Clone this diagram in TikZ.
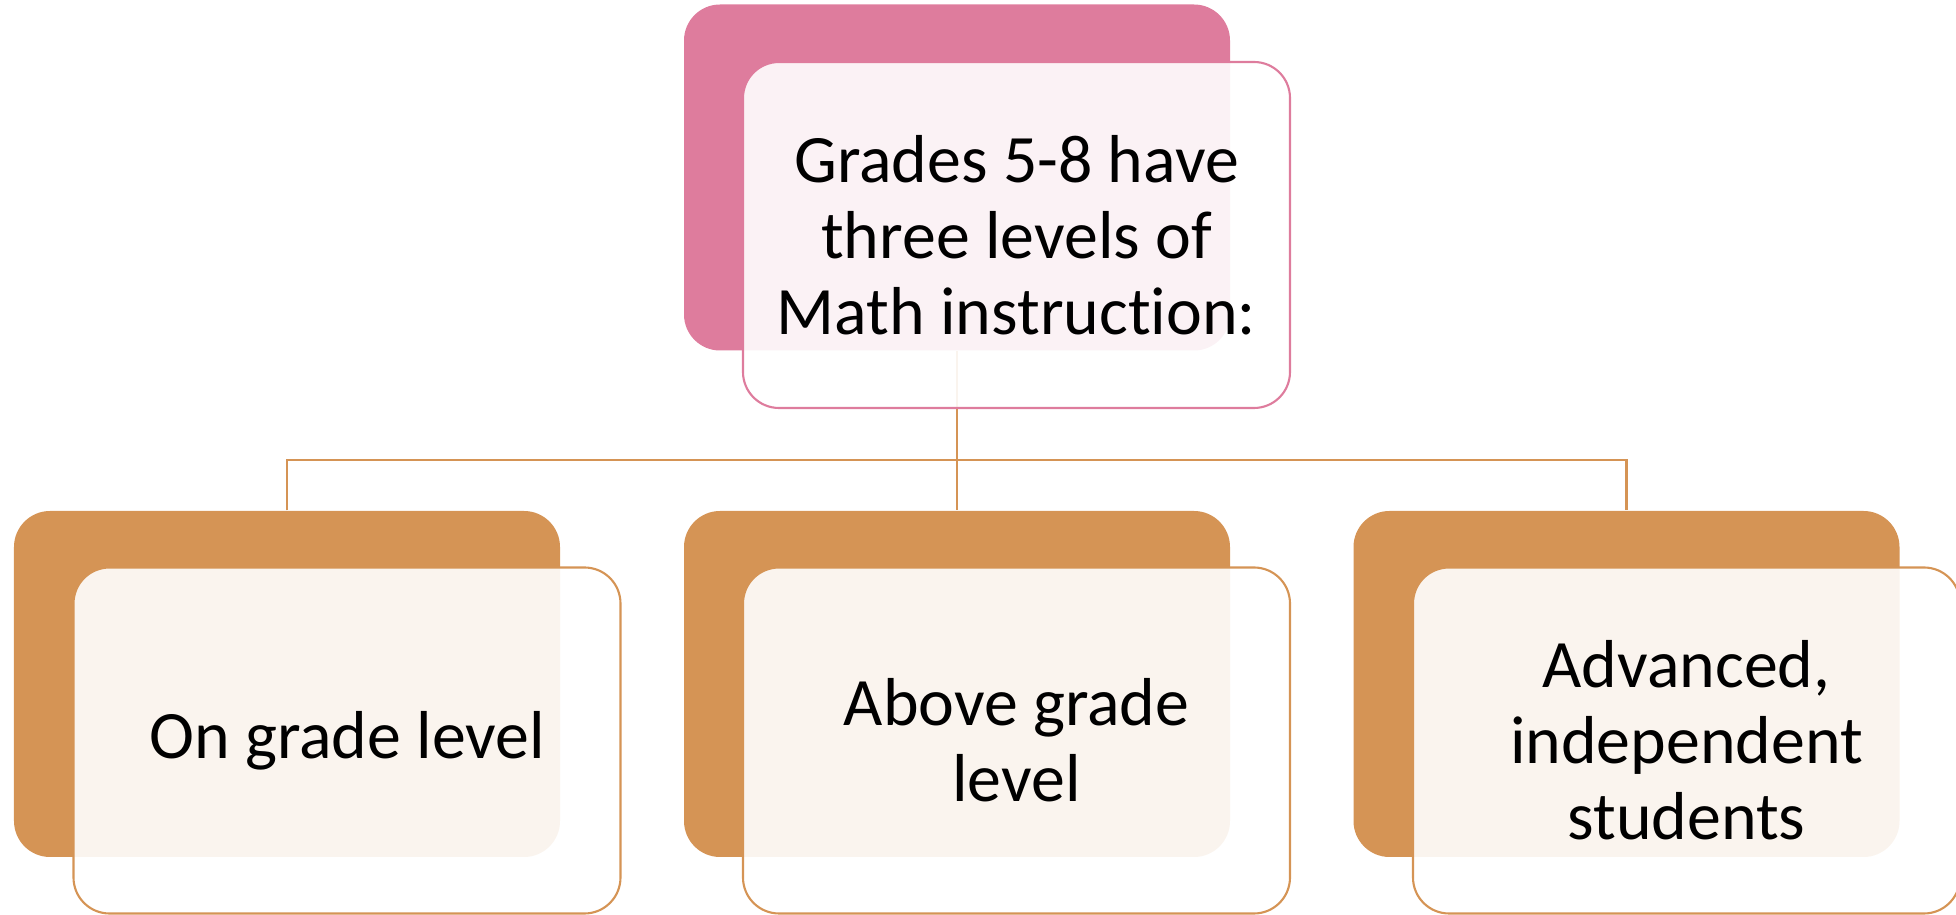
\documentclass[tikz,border=0pt]{standalone}
\usepackage{fontspec}
\setmainfont[Ligatures=NoCommon]{Carlito}
\definecolor{rose}{HTML}{DE7C9D}
\definecolor{ochre}{HTML}{D59455}
\tikzset{
  backbox/.style={rounded corners=3.6mm, minimum width=54.6mm, minimum height=34.6mm, inner sep=0pt},
  frontbox/.style={rounded corners=3.6mm, minimum width=54.7mm, minimum height=34.6mm, inner sep=0pt,
    fill=white, fill opacity=0.9, text opacity=1, line width=0.6pt, align=center,
    font=\fontsize{19.3}{21.6}\selectfont},
  link/.style={draw=ochre, line width=0.6pt}
}
\begin{document}
\begin{tikzpicture}
\useasboundingbox (0,0) rectangle (19.56,9.15);
% back boxes
\node [backbox, fill=rose] (topback) at (9.57,7.375) {};
\node [backbox, fill=ochre] (leftback) at (2.87,2.31) {};
\node [backbox, fill=ochre] (midback) at (9.57,2.31) {};
\node [backbox, fill=ochre] (rightback) at (16.265,2.31) {};
% connectors
\coordinate (bus) at (9.57,4.55);
\draw [link] (topback.south) -- (midback.north);
\draw [link] (leftback.north) |- (bus) -| (rightback.north);
% front boxes
\node [frontbox, draw=rose] (top) at (10.165,6.80) {Grades 5-8 have\\three levels of\\Math instruction:};
\node [frontbox, draw=ochre] (left) at (3.47,1.745) {On grade level};
\node [frontbox, draw=ochre] (mid) at (10.165,1.745) {Above grade\\level};
\node [frontbox, draw=ochre] (right) at (16.865,1.745) {Advanced,\\independent\\students};
\end{tikzpicture}
\end{document}
